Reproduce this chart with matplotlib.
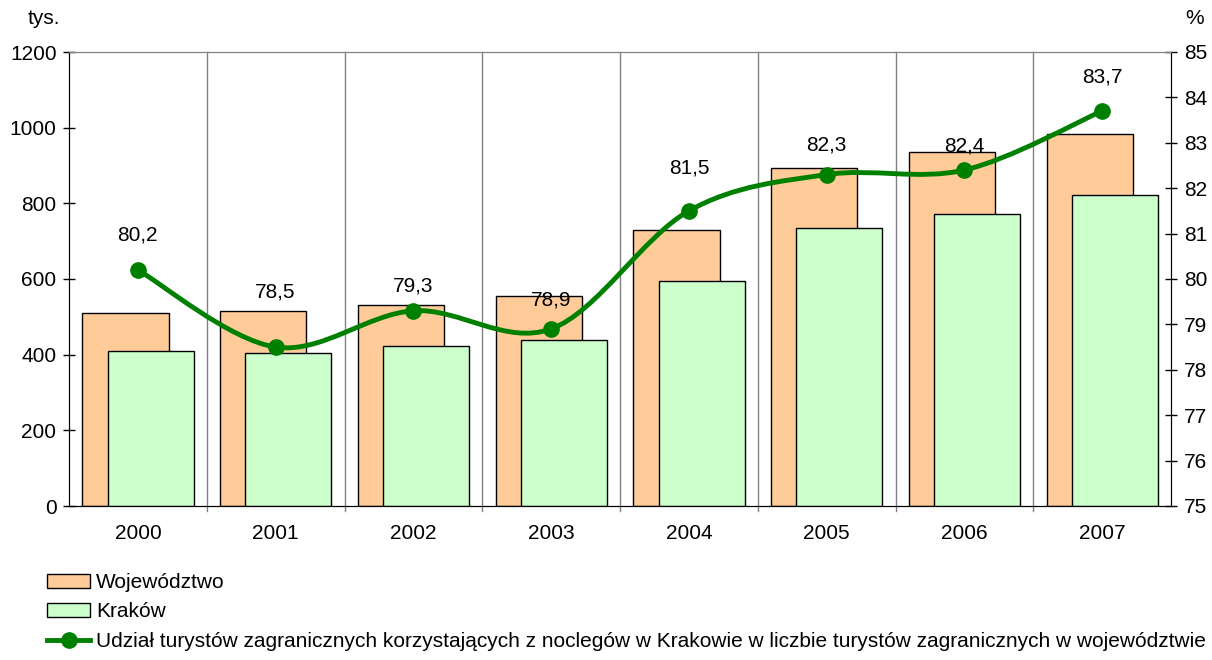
import numpy as np
import matplotlib
matplotlib.use("Agg")
import matplotlib.pyplot as plt
from matplotlib.path import Path
from matplotlib.patches import PathPatch, Patch
from matplotlib.lines import Line2D

plt.rcParams['font.family'] = ['Liberation Sans', 'DejaVu Sans']

## data
years = ['2000', '2001', '2002', '2003', '2004', '2005', '2006', '2007']
wojewodztwo = [510, 515, 531, 555, 730, 893, 936, 983]
krakow = [410, 404, 423, 439, 595, 735, 772, 822]
udzial = [80.2, 78.5, 79.3, 78.9, 81.5, 82.3, 82.4, 83.7]
udzial_labels = ['80,2', '78,5', '79,3', '78,9', '81,5', '82,3', '82,4', '83,7']

## label offsets above the points (points), placed by hand in the original
label_dy = [25, 39.5, 17.5, 21, 31, 21, 17.5, 24.5]

ORANGE = '#FFCC99'
GREEN = '#CCFFCC'
LINE = '#008000'
FS = 15

## smooth path through points (catmull-rom -> bezier), like excel's smoothed line
def smoothPath(x, y, t=1/6.0):
    x = np.asarray(x, float); y = np.asarray(y, float)
    n = len(x)
    verts = [(x[0], y[0])]
    codes = [Path.MOVETO]
    for i in range(n - 1):
        x0, y0 = (x[i-1], y[i-1]) if i > 0 else (x[i], y[i])
        x3, y3 = (x[i+2], y[i+2]) if i + 2 < n else (x[i+1], y[i+1])
        c1 = (x[i] + (x[i+1] - x0) * t, y[i] + (y[i+1] - y0) * t)
        c2 = (x[i+1] - (x3 - x[i]) * t, y[i+1] - (y3 - y[i]) * t)
        verts += [c1, c2, (x[i+1], y[i+1])]
        codes += [Path.CURVE4] * 3
    return Path(verts, codes)

fig = plt.figure(figsize=(12.12, 6.6), dpi=100)
ax = fig.add_axes([69/1212, 1 - 506/660, 1102/1212, 454/660])
ax2 = ax.twinx()

pos = np.arange(len(years))
ax.bar(pos - 0.09, wojewodztwo, width=0.625, color=ORANGE, edgecolor='black', linewidth=1, zorder=2)
ax.bar(pos + 0.092, krakow, width=0.625, color=GREEN, edgecolor='black', linewidth=1, zorder=3)

# category separators
for s in pos[:-1] + 0.5:
    ax.axvline(s, ymin=-0.012, ymax=1, color='#808080', linewidth=1, clip_on=False, zorder=1)

ax.set_xlim(-0.5, len(years) - 0.5)
ax.set_ylim(0, 1200)
ax.set_yticks(range(0, 1201, 200))
ax.set_xticks(pos)
ax.set_xticklabels(years)
ax.tick_params(axis='x', length=0, pad=13, labelsize=FS)
ax.tick_params(axis='y', direction='inout', length=9, width=1, labelsize=FS, pad=4.5)

ax2.set_ylim(75, 85)
ax2.set_yticks(range(75, 86))
ax2.tick_params(axis='y', direction='inout', length=9, width=1, labelsize=FS, pad=5)

for a in (ax, ax2):
    a.spines['top'].set_color('#808080')
    a.spines['left'].set_color('black')
    a.spines['right'].set_color('black')
    a.spines['bottom'].set_color('black')

ax2.add_patch(PathPatch(smoothPath(pos, udzial), facecolor='none', edgecolor=LINE, linewidth=3.5, zorder=4))
ax2.plot(pos, udzial, 'o', color=LINE, markersize=11, zorder=5)
for x, y, lab, dy in zip(pos, udzial, udzial_labels, label_dy):
    ax2.annotate(lab, (x, y), xytext=(0, dy), textcoords='offset points', ha='center', va='center', fontsize=FS)

ax.set_zorder(ax2.get_zorder() - 1)
ax2.patch.set_visible(False)

fig.text(28/1212, 1 - 18/660, 'tys.', fontsize=FS, va='center')
fig.text(1185/1212, 1 - 18/660, '%', fontsize=FS, va='center')

handles = [Patch(facecolor=ORANGE, edgecolor='black', linewidth=1),
           Patch(facecolor=GREEN, edgecolor='black', linewidth=1),
           Line2D([0], [0], color=LINE, linewidth=3.5, marker='o', markersize=11)]
labels = ['Województwo', 'Kraków',
          'Udział turystów zagranicznych korzystających z noclegów w Krakowie w liczbie turystów zagranicznych w województwie']
fig.legend(handles, labels, loc='upper left', bbox_to_anchor=(47/1212, 1 - 573/660), frameon=False,
           fontsize=FS, handlelength=2.07, handleheight=0.65, handletextpad=0.3, labelspacing=0.5,
           borderaxespad=0, borderpad=0)

fig.savefig('out.png', dpi=100)
